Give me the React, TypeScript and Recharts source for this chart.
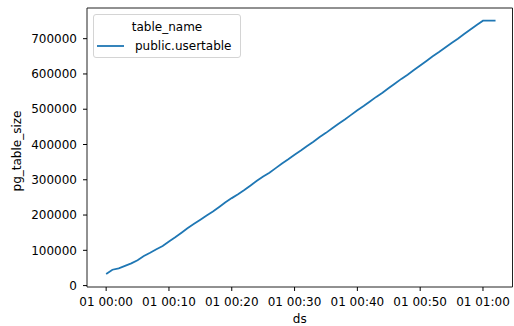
import { LineChart, Line, XAxis, YAxis, Legend, ReferenceArea } from 'recharts'

// minutes after 01 00:00
const minutes = [
  0, 1, 2, 3, 4, 5, 6, 7, 8, 9, 10, 11, 12, 13, 14, 15, 16, 17, 18, 19, 20,
  21, 22, 23, 24, 25, 26, 27, 28, 29, 30, 31, 32, 33, 34, 35, 36, 37, 38, 39, 40,
  41, 42, 43, 44, 45, 46, 47, 48, 49, 50, 51, 52, 53, 54, 55, 56, 57, 58, 59, 60,
  61, 62,
]

const tableSize = [
  33000, 45000, 49000, 56000, 63000, 72000, 84000, 93000, 103000, 112000, 125000,
  137000, 150000, 163000, 175000, 187000, 199000, 210000, 223000, 236000, 248000,
  259000, 271000, 284000, 297000, 309000, 320000, 333000, 346000, 358000, 371000,
  383000, 396000, 408000, 421000, 433000, 446000, 459000, 471000, 484000, 497000,
  509000, 522000, 535000, 547000, 560000, 573000, 586000, 598000, 611000, 624000,
  637000, 650000, 662000, 675000, 688000, 700000, 713000, 726000, 739000, 751000,
  751000, 751000,
]

const xTicks = [0, 10, 20, 30, 40, 50, 60]
const yTicks = [0, 100000, 200000, 300000, 400000, 500000, 600000, 700000]

const legendTitle = 'table_name'
const seriesName = 'public.usertable'
const xLabel = 'ds'
const yLabel = 'pg_table_size'

const X_MIN = -3.05
const X_MAX = 64.7
const Y_MIN = -4000
const Y_MAX = 787000

const FONT = '"DejaVu Sans", sans-serif'
const BLUE = '#1f77b4'

const data = minutes.map((m, i) => ({ ds: m, size: tableSize[i] }))

const pad = (n: number) => String(n).padStart(2, '0')
const fmtTime = (m: number) => `01 ${pad(Math.floor(m / 60))}:${pad(m % 60)}`

const renderLegend = () => (
  <div
    style={{
      width: 148,
      height: 44,
      boxSizing: 'border-box',
      border: '1px solid #d4d4d4',
      borderRadius: 3,
      background: 'rgba(255,255,255,0.8)',
      fontFamily: FONT,
      fontSize: 12,
      color: '#000',
    }}
  >
    <div style={{ textAlign: 'center', lineHeight: '14px', paddingTop: 5 }}>{legendTitle}</div>
    <div style={{ display: 'flex', alignItems: 'center', marginTop: 5, height: 14 }}>
      <svg width={27} height={4} style={{ marginLeft: 3, marginRight: 11 }}>
        <line x1={0} y1={2} x2={27} y2={2} stroke={BLUE} strokeWidth={1.8} />
      </svg>
      <span style={{ lineHeight: '14px' }}>{seriesName}</span>
    </div>
  </div>
)

const renderYLabel = (props: any) => {
  const vb = props.viewBox || {}
  const cy = (vb.y ?? 8) + (vb.height ?? 279) / 2 + 3.5
  const x = 20.5
  return (
    <text
      x={x}
      y={cy}
      transform={`rotate(-90, ${x}, ${cy})`}
      textAnchor="middle"
      fontFamily={FONT}
      fontSize={12}
      fill="#000"
    >
      {yLabel}
    </text>
  )
}

export default function App() {
  return (
    <div style={{ position: 'absolute', left: 0, top: 0, width: 514, height: 326, background: '#fff' }}>
      <LineChart
        width={514}
        height={326}
        data={data}
        margin={{ top: 8, right: 1.5, bottom: 0, left: 0 }}
      >
        <XAxis
          dataKey="ds"
          type="number"
          domain={[X_MIN, X_MAX]}
          ticks={xTicks}
          tickFormatter={fmtTime}
          height={39}
          axisLine={false}
          tickSize={4}
          tickMargin={6}
          tickLine={{ stroke: '#000' }}
          tick={{ fill: '#000', fontSize: 12, fontFamily: FONT }}
          interval={0}
          allowDataOverflow
          label={{ value: xLabel, position: 'insideBottom', offset: 3, fill: '#000', fontSize: 12, fontFamily: FONT }}
        />
        <YAxis
          type="number"
          domain={[Y_MIN, Y_MAX]}
          ticks={yTicks}
          width={87}
          axisLine={false}
          tickSize={4}
          tickMargin={6}
          tickLine={{ stroke: '#000' }}
          tick={{ fill: '#000', fontSize: 12, fontFamily: FONT }}
          interval={0}
          allowDataOverflow
          label={renderYLabel}
        />
        <Line
          type="linear"
          dataKey="size"
          name={seriesName}
          stroke={BLUE}
          strokeWidth={1.8}
          dot={false}
          isAnimationActive={false}
        />
        <ReferenceArea
          x1={X_MIN}
          x2={X_MAX}
          y1={Y_MIN}
          y2={Y_MAX}
          fill="none"
          stroke="#222"
          strokeWidth={1}
          ifOverflow="visible"
        />
        <Legend
          layout="horizontal"
          verticalAlign="middle"
          align="center"
          content={renderLegend}
          wrapperStyle={{ left: 93, top: 14, width: 'auto', bottom: 'auto' }}
        />
      </LineChart>
    </div>
  )
}
